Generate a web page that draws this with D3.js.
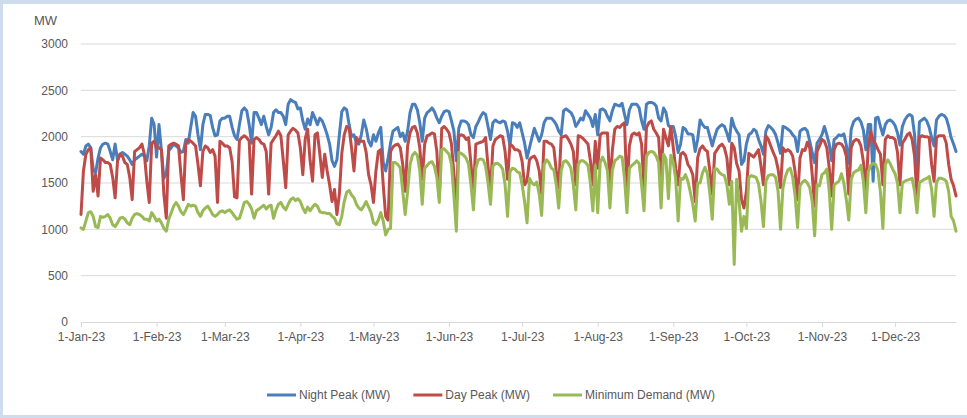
<!DOCTYPE html>
<html>
<head>
<meta charset="utf-8">
<title>Daily demand 2023</title>
<script src="https://cdn.jsdelivr.net/npm/d3@7"></script>
<style>
  html, body { margin: 0; padding: 0; background: #cfdcee; }
  svg { display: block; }
</style>
</head>
<body>
<svg id="chart" width="967" height="418"></svg>
<script>
// daily values, 1-Jan-23 to 26-Dec-23
const startDate = new Date(2023, 0, 1);

const nightPeak = [
  1840,1810,1900,1920,1880,1650,1610,1770,1880,1920,
  1930,1920,1840,1750,1920,1740,1810,1830,1810,1790,
  1750,1700,1750,1770,1790,1810,1790,1740,1900,2200,
  2130,1780,2130,1850,1550,1600,1850,1880,1920,1900,
  1880,1830,1840,1970,1930,2100,2260,2220,2020,1860,
  2130,2240,2240,2230,2100,2010,2020,2170,2200,2200,
  2220,2220,2100,2010,1970,2130,2280,2310,2280,2130,
  1930,2260,2260,2200,2130,2220,2110,2020,2100,2260,
  2290,2260,2260,2220,2130,2350,2400,2380,2370,2300,
  2310,2170,2080,2190,2130,2260,2200,2130,2200,2170,
  2100,2020,1920,1740,1680,1750,2020,2270,2310,2290,
  2130,2000,2020,1930,1920,2020,2180,2090,1950,1900,
  2020,1950,2040,2100,1720,1630,1770,1930,2060,2080,
  2100,2000,2040,1950,2060,2260,2350,2350,2290,2150,
  1950,2200,2260,2280,2310,2270,2200,2150,2220,2270,
  2280,2270,2170,2060,1740,2090,2170,2170,2160,2130,
  2020,1990,2110,2160,2220,2260,2240,2110,1970,2150,
  2180,2160,2150,2170,2160,2060,1900,2150,2140,2100,
  2150,2040,1930,1770,1880,1990,2090,2020,1950,2020,
  2150,2200,2200,2200,2170,2130,2060,2020,2280,2300,
  2280,2260,2210,2110,2150,2200,2180,2280,2240,2200,
  2110,2240,2020,2290,2300,2280,2220,2170,2280,2350,
  2340,2330,2360,2240,2130,2290,2350,2350,2350,2310,
  2170,2080,2350,2370,2370,2360,2330,2200,2170,2310,
  2260,2120,2100,2110,2000,1830,1920,2100,2080,2030,
  2030,2020,1840,1970,2180,2130,2100,2100,2000,1900,
  2000,2080,2110,2130,2110,2040,1950,2200,2110,2060,
  2020,1700,1740,1920,2020,2040,2080,2060,1970,1900,
  1810,2060,2120,2100,2070,2020,1930,1820,2110,2100,
  2080,2060,2020,1990,1840,2060,2080,2090,2060,1950,
  1830,1720,1930,1970,2020,2110,2020,1920,1740,1970,
  1990,2020,2010,2030,1910,1710,2080,2160,2190,2200,
  2160,2070,1860,2130,2130,1520,2200,2210,2110,2020,
  2130,2170,2180,2160,2120,2040,1910,2110,2180,2220,
  2240,2220,2020,1590,2160,2180,2200,2170,2100,1990,
  1900,2180,2220,2240,2230,2200,2110,1990,1920,1840
];

const dayPeak = [
  1160,1630,1810,1860,1880,1410,1590,1360,1770,1750,
  1720,1720,1700,1560,1340,1740,1810,1790,1720,1700,
  1560,1320,1840,1860,1880,1920,1810,1520,1290,1930,
  1950,1880,1880,1860,1380,1120,1900,1920,1930,1920,
  1900,1590,1320,1920,1970,1950,1930,1900,1700,1470,
  1840,1900,1880,1830,1860,1790,1290,1950,1930,1900,
  1900,1880,1730,1350,1340,1960,1990,2010,1990,1950,
  1380,1970,1990,1970,1930,1920,1840,1380,1930,1970,
  2010,2060,2010,1740,1450,2020,2060,2090,2070,2040,
  1880,1590,1980,2080,1740,1520,2020,2040,1810,1560,
  1810,1630,1480,1300,1430,1160,1380,1820,2020,2110,
  2090,1880,1630,1990,1950,1950,1950,1830,1590,1480,
  1290,1630,1840,1860,1480,1140,1100,1840,1890,1910,
  1920,1880,1700,1410,1900,2040,2100,2110,2040,1880,
  1540,1920,2010,2020,2040,2030,1840,1340,2090,2110,
  2080,2040,1920,1600,1230,2010,2020,2010,1970,1990,
  1700,1410,1920,1930,1940,1950,1990,1680,1410,1900,
  1970,1990,2010,2000,1840,1540,1920,1900,1860,1860,
  1840,1730,1480,1520,1750,1780,1790,1740,1630,1380,
  1950,1950,1930,1920,1880,1630,1450,1990,2000,2010,
  1970,1920,1840,1480,2010,2000,1980,1950,1920,1740,
  1480,1950,1660,2020,2040,2040,2040,1450,1850,2080,
  2110,2100,2130,2150,1400,1900,2020,2040,2020,2040,
  1920,1450,2100,2150,2170,2080,2040,1990,1560,2080,
  1990,1900,2110,1880,1660,1480,1810,1830,1800,1700,
  1660,1590,1300,1770,1870,1900,1860,1840,1630,1380,
  1820,1860,1900,1920,1880,1770,1480,1930,1880,1710,
  1630,1320,1230,1410,1820,1800,1780,1820,1860,1680,
  1480,2010,1970,1900,1830,1770,1650,1450,1880,1840,
  1860,1840,1790,1620,1320,1770,1860,1850,1940,1880,
  1590,1250,1840,1900,1970,1950,1880,1660,1360,1860,
  1920,1930,1920,1880,1790,1380,1880,1950,1970,1960,
  1900,1730,1410,1880,2060,1960,1920,1860,1810,1480,
  1970,2010,1990,1990,1970,1830,1480,1930,1970,2020,
  2040,1970,1790,1340,1990,2010,2000,2000,1990,1700,
  1520,1990,2010,2010,2010,1930,1700,1540,1470,1360
];

const minDemand = [
  1015,1000,1090,1180,1190,1140,1030,1020,1140,1130,
  1140,1160,1120,1050,1030,1070,1120,1130,1110,1070,
  1050,1120,1160,1170,1160,1140,1110,1110,1090,1180,
  1140,1090,1110,1070,1010,980,1110,1180,1250,1290,
  1250,1190,1160,1210,1270,1250,1260,1250,1180,1140,
  1200,1230,1250,1210,1160,1140,1160,1190,1200,1180,
  1200,1210,1180,1140,1110,1120,1200,1290,1300,1270,
  1220,1120,1200,1220,1240,1260,1220,1250,1260,1120,
  1210,1270,1290,1240,1210,1270,1320,1340,1310,1330,
  1300,1230,1180,1240,1200,1240,1270,1250,1190,1180,
  1180,1170,1170,1140,1120,1060,1050,1140,1300,1400,
  1420,1370,1340,1270,1230,1210,1250,1300,1240,1180,
  1070,1050,1100,1180,1090,940,1000,1010,1720,1720,
  1700,1660,1410,1160,1410,1700,1800,1830,1800,1630,
  1270,1660,1690,1720,1730,1680,1560,1290,1860,1870,
  1840,1810,1700,1360,980,1830,1820,1800,1770,1700,
  1480,1210,1660,1750,1760,1750,1680,1500,1270,1680,
  1710,1710,1690,1650,1480,1140,1620,1660,1650,1620,
  1610,1480,1300,1070,1550,1500,1480,1510,1380,1150,
  1700,1750,1720,1660,1640,1480,1230,1630,1730,1740,
  1710,1660,1480,1210,1700,1740,1740,1720,1690,1500,
  1200,1690,1180,1720,1780,1720,1630,1230,1640,1740,
  1760,1790,1780,1550,1180,1660,1690,1710,1740,1710,
  1480,1200,1790,1830,1840,1830,1790,1720,1230,1810,
  1760,1330,1800,1720,1540,1090,1550,1540,1590,1520,
  1400,1270,1090,1500,1500,1610,1670,1600,1390,1110,
  1650,1650,1610,1590,1580,1480,1270,1520,620,1540,
  1300,980,1140,1010,1560,1580,1570,1560,1490,1300,
  1030,1520,1580,1590,1590,1560,1410,1000,1450,1570,
  1640,1660,1560,1360,1020,1470,1510,1530,1500,1450,
  1300,930,1480,1470,1590,1610,1650,1410,1000,1480,
  1500,1520,1600,1500,1320,1100,1540,1610,1630,1640,
  1690,1520,1180,1620,1690,1710,1700,1630,1400,1010,
  1700,1750,1710,1650,1600,1500,1180,1500,1520,1530,
  1540,1550,1410,1180,1510,1520,1540,1550,1570,1430,
  1140,1510,1550,1550,1540,1520,1410,1140,1090,980
];

const yTicks = [0, 500, 1000, 1500, 2000, 2500, 3000];
const monthTicks = ["2023-01-01","2023-02-01","2023-03-01","2023-04-01","2023-05-01","2023-06-01",
                    "2023-07-01","2023-08-01","2023-09-01","2023-10-01","2023-11-01","2023-12-01"];
const seriesNames = ["Night Peak (MW)", "Day Peak (MW)", "Minimum Demand (MW)"];
const seriesColors = ["#4a7ebb", "#be4b48", "#98b954"];

const W = 967, H = 418;
const plotLeft = 81, plotRight = 956, plotTop = 44, plotBottom = 322;
const font = "'Liberation Sans', Arial, sans-serif";
const textColor = "#595959", gridColor = "#d9d9d9";

const dates = nightPeak.map((d, i) => d3.timeDay.offset(startDate, i));
const series = [nightPeak, dayPeak, minDemand];

const x = d3.scaleTime()
  .domain([dates[0], dates[dates.length - 1]])
  .range([plotLeft, plotRight]);

const y = d3.scaleLinear()
  .domain([0, 3000])
  .range([plotBottom, plotTop]);

const svg = d3.select("#chart");

// white chart area inside the light blue frame
svg.append("rect")
  .attr("x", 3).attr("y", 4)
  .attr("width", W - 3).attr("height", 411)
  .attr("fill", "#fff");

// gridlines
svg.append("g")
  .selectAll("line")
  .data(yTicks.filter(d => d > 0))
  .enter()
  .append("line")
  .attr("x1", plotLeft).attr("x2", plotRight)
  .attr("y1", d => y(d)).attr("y2", d => y(d))
  .attr("stroke", gridColor)
  .attr("stroke-width", 1);

// y axis labels
const yAxis = svg.append("g")
  .attr("transform", "translate(" + plotLeft + ",0)")
  .call(d3.axisLeft(y).tickValues(yTicks).tickFormat(d3.format("d")).tickSize(0).tickPadding(13));
yAxis.select(".domain").remove();
yAxis.selectAll("text")
  .attr("fill", textColor)
  .attr("font-family", font)
  .attr("font-size", "12px");

// x axis
const fmt = d3.timeFormat("%-d-%b-%y");
const xAxis = svg.append("g")
  .attr("transform", "translate(0," + plotBottom + ")")
  .call(d3.axisBottom(x)
    .tickValues(monthTicks.map(d => d3.timeParse("%Y-%m-%d")(d)))
    .tickFormat(fmt)
    .tickSizeInner(5)
    .tickSizeOuter(0)
    .tickPadding(5));
xAxis.select(".domain").attr("stroke", gridColor);
xAxis.selectAll(".tick line").attr("stroke", gridColor);
xAxis.selectAll("text")
  .attr("fill", textColor)
  .attr("font-family", font)
  .attr("font-size", "12px");

// unit label
svg.append("text")
  .attr("x", 34).attr("y", 25)
  .attr("fill", textColor)
  .attr("font-family", font)
  .attr("font-size", "13px")
  .text("MW");

// lines
const line = d3.line()
  .x((d, i) => x(dates[i]))
  .y(d => y(d));

svg.append("g")
  .selectAll("path")
  .data(series)
  .enter()
  .append("path")
  .attr("d", line)
  .attr("fill", "none")
  .attr("stroke", (d, i) => seriesColors[i])
  .attr("stroke-width", 3)
  .attr("stroke-linejoin", "round")
  .attr("stroke-linecap", "round");

// legend
const legend = svg.append("g");
let cx = 267;
seriesNames.forEach(function(name, i) {
  legend.append("line")
    .attr("x1", cx).attr("x2", cx + 29)
    .attr("y1", 395).attr("y2", 395)
    .attr("stroke", seriesColors[i])
    .attr("stroke-width", 3);
  const t = legend.append("text")
    .attr("x", cx + 32).attr("y", 399)
    .attr("fill", textColor)
    .attr("font-family", font)
    .attr("font-size", "12px")
    .text(name);
  cx += 32 + t.node().getComputedTextLength() + 23;
});
</script>
</body>
</html>
